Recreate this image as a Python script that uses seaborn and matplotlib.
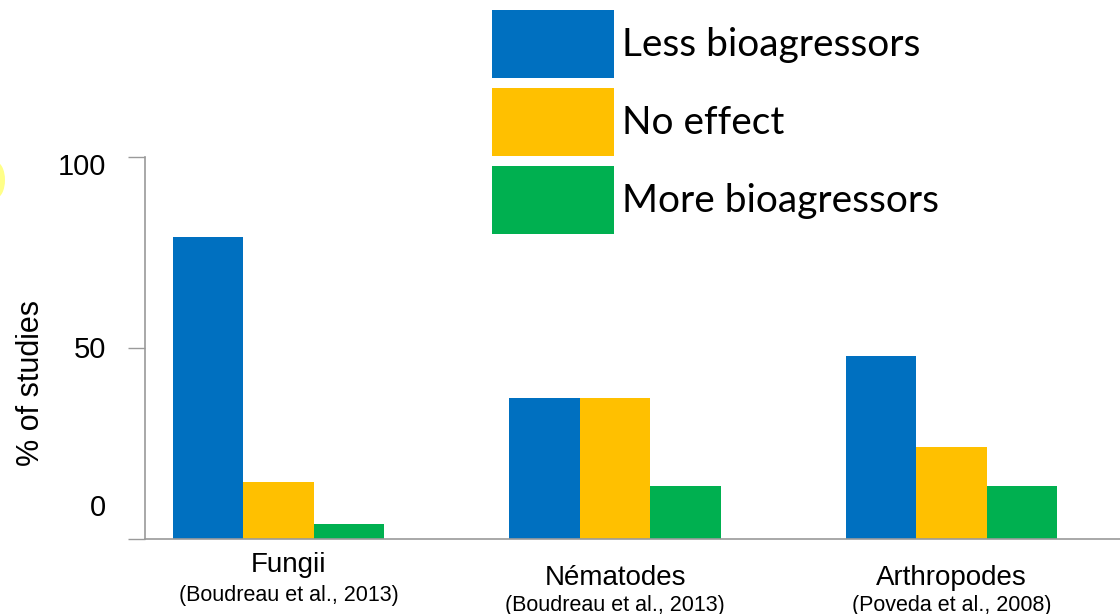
import numpy as np
import pandas as pd
import matplotlib
matplotlib.use('Agg')
import matplotlib.pyplot as plt
import matplotlib.transforms as mtransforms
from matplotlib.patches import Ellipse, Patch
import seaborn as sns

# --- donnees ---
groupes = ['Fungii', 'Nématodes', 'Arthropodes']
citations = ['(Boudreau et al., 2013)', '(Boudreau et al., 2013)', '(Poveda et al., 2008)']
effets = ['Less bioagressors', 'No effect', 'More bioagressors']
moins = [79, 37, 48]
sans_effet = [15, 37, 24]
plus = [4, 14, 14]
couleurs = ['#0070C0', '#FFC000', '#00B050']
graduations = [0, 50, 100]

df = pd.DataFrame({
    'groupe': groupes * 3,
    'effet': np.repeat(effets, 3),
    'valeur': moins + sans_effet + plus,
})

sns.set_style('white')
plt.rcParams['font.family'] = ['Liberation Sans', 'DejaVu Sans']
plt.rcParams['text.color'] = 'black'
plt.rcParams['axes.labelcolor'] = 'black'

fig = plt.figure(figsize=(11.2, 6.14), dpi=100)
ax = fig.add_axes([0.1295, 0.122, 0.8705, 0.622])

sns.barplot(data=df, x='groupe', y='valeur', hue='effet', order=groupes,
            hue_order=effets, palette=couleurs, saturation=1, width=0.627,
            linewidth=0, legend=False, ax=ax)

ax.set_ylim(0, 100)
ax.set_xlim(-0.396, 2.5)
ax.set_yticks(graduations)
ax.set_yticklabels([''] * len(graduations))
ax.tick_params(axis='y', length=12.5, width=1, color='#9a9a9a', left=True)
ax.tick_params(axis='x', length=0)
ax.set_xticks(range(len(groupes)))
ax.set_xticklabels([''] * len(groupes))
ax.set_xlabel('')
ax.set_ylabel('% of studies', fontsize=22)
ax.yaxis.set_label_coords(-0.1015, 0.408)

for s in ['top', 'right']:
    ax.spines[s].set_visible(False)
for s in ['left', 'bottom']:
    ax.spines[s].set_color('#9a9a9a')
    ax.spines[s].set_linewidth(1.2)

# etiquettes de l'axe y (decalees comme dans l'original)
ytrans = mtransforms.blended_transform_factory(ax.transAxes, ax.transData)
decal_y = {0: 31, 50: -2, 100: -10}  # pixels, vers le haut
for v in graduations:
    t = mtransforms.offset_copy(ytrans, fig=fig, x=-39, y=decal_y[v], units='dots')
    ax.text(0, v, str(v), transform=t, ha='right', va='center', fontsize=21,
            clip_on=False)

# etiquettes des groupes (deux lignes)
trans = mtransforms.blended_transform_factory(ax.transData, fig.transFigure)
decal = [0.03, 0, 0]
y_nom = [1 - 565 / 614, 1 - 578 / 614, 1 - 578 / 614]
y_cit = [1 - 595 / 614, 1 - 605 / 614, 1 - 605 / 614]
for i, (g, c) in enumerate(zip(groupes, citations)):
    ax.text(i + decal[i], y_nom[i], g, transform=trans, ha='center', va='center',
            fontsize=20, clip_on=False)
    ax.text(i + decal[i], y_cit[i], c, transform=trans, ha='center', va='center',
            fontsize=15.5, clip_on=False)

# legende en haut
poignees = [Patch(facecolor=c, edgecolor='none') for c in couleurs]
fig.legend(poignees, effets, loc='upper left', bbox_to_anchor=(492 / 1120, 1 - 10 / 614),
           frameon=False, prop={'family': 'Lato', 'size': 28}, labelcolor='black',
           handlelength=3.14, handleheight=2.315, labelspacing=0.257,
           handletextpad=0.2, borderpad=0, borderaxespad=0)

# tache jaune au bord gauche
fig.patches.append(Ellipse((-4, 614 - 180), 18, 36, transform=None,
                           facecolor='#ffff88', edgecolor='none'))

fig.savefig('out.png', dpi=100)
